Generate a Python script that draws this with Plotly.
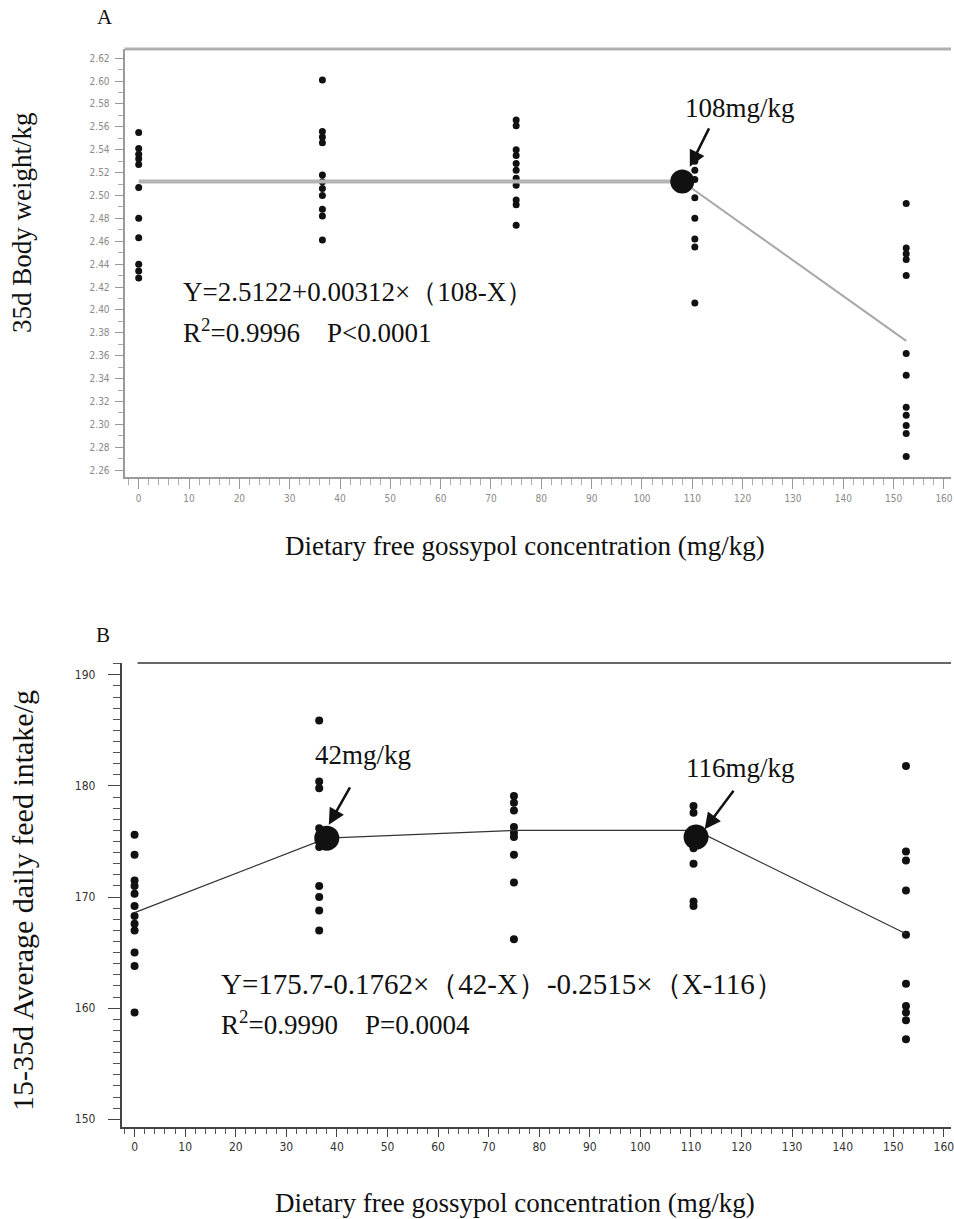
import plotly.graph_objects as go

W, H = 954, 1219

# ---------------- data: panel A (35d body weight, kg) ----------------
a_doses = [0, 36.5, 75, 110.5, 152.5]
a_vals = [
    [2.555, 2.541, 2.536, 2.532, 2.527, 2.507, 2.480, 2.463, 2.440, 2.434, 2.428],
    [2.601, 2.556, 2.551, 2.546, 2.518, 2.512, 2.506, 2.500, 2.488, 2.482, 2.461],
    [2.566, 2.561, 2.540, 2.535, 2.528, 2.522, 2.515, 2.509, 2.496, 2.492, 2.474],
    [2.530, 2.522, 2.514, 2.498, 2.480, 2.462, 2.455, 2.406],
    [2.493, 2.454, 2.449, 2.444, 2.430, 2.362, 2.343, 2.315, 2.308, 2.299, 2.292, 2.272],
]
a_flat_x = [0, 108]
a_flat_y = [2.5122, 2.5122]
a_desc_x = [108, 152.5]
a_desc_y = [2.5122, 2.373]
a_break_x = [108]
a_break_y = [2.5122]
a_yticks = [round(2.26 + 0.02 * i, 2) for i in range(19)]
a_xticks = list(range(0, 170, 10))

# ---------------- data: panel B (15-35d ADFI, g) ----------------
b_doses = [0, 36.5, 75, 110.5, 152.5]
b_vals = [
    [175.6, 173.8, 171.5, 171.0, 170.3, 169.2, 168.3, 167.6, 167.0, 165.0, 163.8, 159.6],
    [185.9, 180.4, 179.8, 176.2, 175.5, 175.0, 174.5, 171.0, 170.0, 168.8, 167.0],
    [179.1, 178.5, 177.8, 176.3, 175.8, 175.4, 173.8, 171.3, 166.2],
    [178.2, 177.6, 175.8, 175.0, 174.4, 173.0, 169.6, 169.2],
    [181.8, 174.1, 173.3, 170.6, 166.6, 162.2, 160.2, 159.6, 158.9, 157.2],
]
b_line_x = [0, 38, 75, 111, 152.5]
b_line_y = [168.6, 175.3, 176.0, 176.0, 166.7]
b_break_x = [38, 111]
b_break_y = [175.3, 175.4]
b_yticks = [150, 160, 170, 180, 190]
b_xticks = list(range(0, 170, 10))


def px(x):
    return x / W


def py(y):
    return 1 - y / H


fig = go.Figure()

# Panel A traces
for d, vals in zip(a_doses, a_vals):
    fig.add_trace(go.Scatter(x=[d] * len(vals), y=vals, mode="markers",
                             marker=dict(color="#111111", size=7),
                             xaxis="x", yaxis="y", showlegend=False))
fig.add_trace(go.Scatter(x=a_flat_x, y=a_flat_y, mode="lines",
                         line=dict(color="#b4b4b4", width=4),
                         xaxis="x", yaxis="y", showlegend=False))
fig.add_trace(go.Scatter(x=a_desc_x, y=a_desc_y, mode="lines",
                         line=dict(color="#a8a8a8", width=2),
                         xaxis="x", yaxis="y", showlegend=False))
fig.add_trace(go.Scatter(x=a_break_x, y=a_break_y, mode="markers",
                         marker=dict(color="#111111", size=24),
                         xaxis="x", yaxis="y", showlegend=False))

# Panel B traces
for d, vals in zip(b_doses, b_vals):
    fig.add_trace(go.Scatter(x=[d] * len(vals), y=vals, mode="markers",
                             marker=dict(color="#111111", size=8),
                             xaxis="x2", yaxis="y2", showlegend=False))
fig.add_trace(go.Scatter(x=b_line_x, y=b_line_y, mode="lines",
                         line=dict(color="#333333", width=1.2),
                         xaxis="x2", yaxis="y2", showlegend=False))
fig.add_trace(go.Scatter(x=b_break_x, y=b_break_y, mode="markers",
                         marker=dict(color="#111111", size=25),
                         xaxis="x2", yaxis="y2", showlegend=False))

tickfont_a = dict(family="Liberation Sans Narrow, DejaVu Sans Condensed, Liberation Sans", size=10, color="#8a8a8a")
tickfont_b = dict(family="Liberation Sans Narrow, DejaVu Sans Condensed, Liberation Sans", size=12, color="#333333")
serif = "Liberation Serif, Times New Roman, serif"

fig.update_layout(
    width=W, height=H,
    margin=dict(l=0, r=0, t=0, b=0),
    paper_bgcolor="white", plot_bgcolor="white",
    xaxis=dict(domain=[px(125), px(954)], range=[-2.8, 161.4],
               tickvals=a_xticks, ticks="outside", ticklen=10, tickcolor="#999999",
               showline=True, linecolor="#9a9a9a", linewidth=2,
               showgrid=False, zeroline=False, tickfont=tickfont_a,
               ticklabelstandoff=1, ticklabeloverflow="allow",
               minor=dict(dtick=2, ticks="outside", ticklen=6, tickcolor="#aaaaaa", showgrid=False),
               anchor="y"),
    yaxis=dict(domain=[py(477), py(49)], range=[2.254, 2.628],
               tickvals=a_yticks, tickformat=".2f", ticks="outside", ticklen=8,
               tickcolor="#999999", showline=True, linecolor="#9a9a9a", linewidth=2,
               showgrid=False, zeroline=False, tickfont=tickfont_a,
               ticklabelstandoff=3,
               minor=dict(dtick=0.01, ticks="outside", ticklen=5, tickcolor="#aaaaaa", showgrid=False),
               anchor="x"),
    xaxis2=dict(domain=[px(122), px(954)], range=[-2.56, 161.4],
                tickvals=b_xticks, ticks="outside", ticklen=8, tickcolor="#444444",
                showline=True, linecolor="#444444", linewidth=1.5,
                showgrid=False, zeroline=False, tickfont=tickfont_b,
                ticklabelstandoff=0, ticklabeloverflow="allow",
                minor=dict(dtick=2, ticks="outside", ticklen=5, tickcolor="#555555", showgrid=False),
                anchor="y2"),
    yaxis2=dict(domain=[py(1127), py(663)], range=[149.3, 191.07],
                tickvals=b_yticks, ticks="outside", ticklen=12, tickcolor="#444444",
                showline=True, linecolor="#444444", linewidth=1.5,
                showgrid=False, zeroline=False, tickfont=tickfont_b,
                ticklabelstandoff=10,
                minor=dict(dtick=1, ticks="outside", ticklen=7, tickcolor="#555555", showgrid=False),
                anchor="x2"),
)

# frame lines at top of each panel
fig.add_shape(type="line", xref="paper", yref="paper", x0=px(125), x1=1, y0=py(49), y1=py(49),
              line=dict(color="#b0b0b0", width=3))
fig.add_shape(type="line", xref="paper", yref="paper", x0=px(138), x1=1, y0=py(663), y1=py(663),
              line=dict(color="#666666", width=2))

ann = []


def txt(x, y, s, size=27, xanchor="center", yanchor="middle", angle=0):
    ann.append(dict(x=px(x), y=py(y), xref="paper", yref="paper", text=s, showarrow=False,
                    xanchor=xanchor, yanchor=yanchor, textangle=angle,
                    font=dict(family=serif, size=size, color="#111111")))


nb = "\u00a0"
txt(105, 17, "A", size=21)
txt(103, 635, "B", size=21)
txt(527, 546, "Dietary free gossypol concentration (mg/kg)", size=27)
txt(517, 1203, "Dietary free gossypol concentration (mg/kg)", size=27)
txt(22, 222, "35d Body weight/kg", size=27, angle=-90)
txt(22, 900, "15-35d Average daily feed intake/g", size=30, angle=-90)
txt(742, 108, "108mg/kg", size=27)
txt(182, 292, "Y=2.5122+0.00312×（108-X）", size=27, xanchor="left")
txt(182, 331, "R<sup>2</sup>=0.9996" + nb * 4 + "P&lt;0.0001", size=27, xanchor="left")
txt(364, 755, "42mg/kg", size=27)
txt(743, 768, "116mg/kg", size=27)
txt(220, 984, "Y=175.7-0.1762×（42-X）-0.2515×（X-116）", size=29, xanchor="left")
txt(220, 1023, "R<sup>2</sup>=0.9990" + nb * 4 + "P=0.0004", size=27, xanchor="left")

# arrows (heads at data points near break markers)
ann.append(dict(x=109.5, y=2.525, xref="x", yref="y", ax=20, ay=-40, text="", showarrow=True,
                arrowhead=2, arrowsize=1.3, arrowwidth=2.5, arrowcolor="#111111"))
ann.append(dict(x=38.4, y=176.5, xref="x2", yref="y2", ax=22, ay=-39, text="", showarrow=True,
                arrowhead=2, arrowsize=1.3, arrowwidth=2.5, arrowcolor="#111111"))
ann.append(dict(x=112.7, y=176.1, xref="x2", yref="y2", ax=30, ay=-40, text="", showarrow=True,
                arrowhead=2, arrowsize=1.3, arrowwidth=2.5, arrowcolor="#111111"))

fig.update_layout(annotations=ann)
fig.write_html("out.html", config={"displayModeBar": False},
               post_script="document.body.style.margin='0';document.body.style.overflow='hidden';")
